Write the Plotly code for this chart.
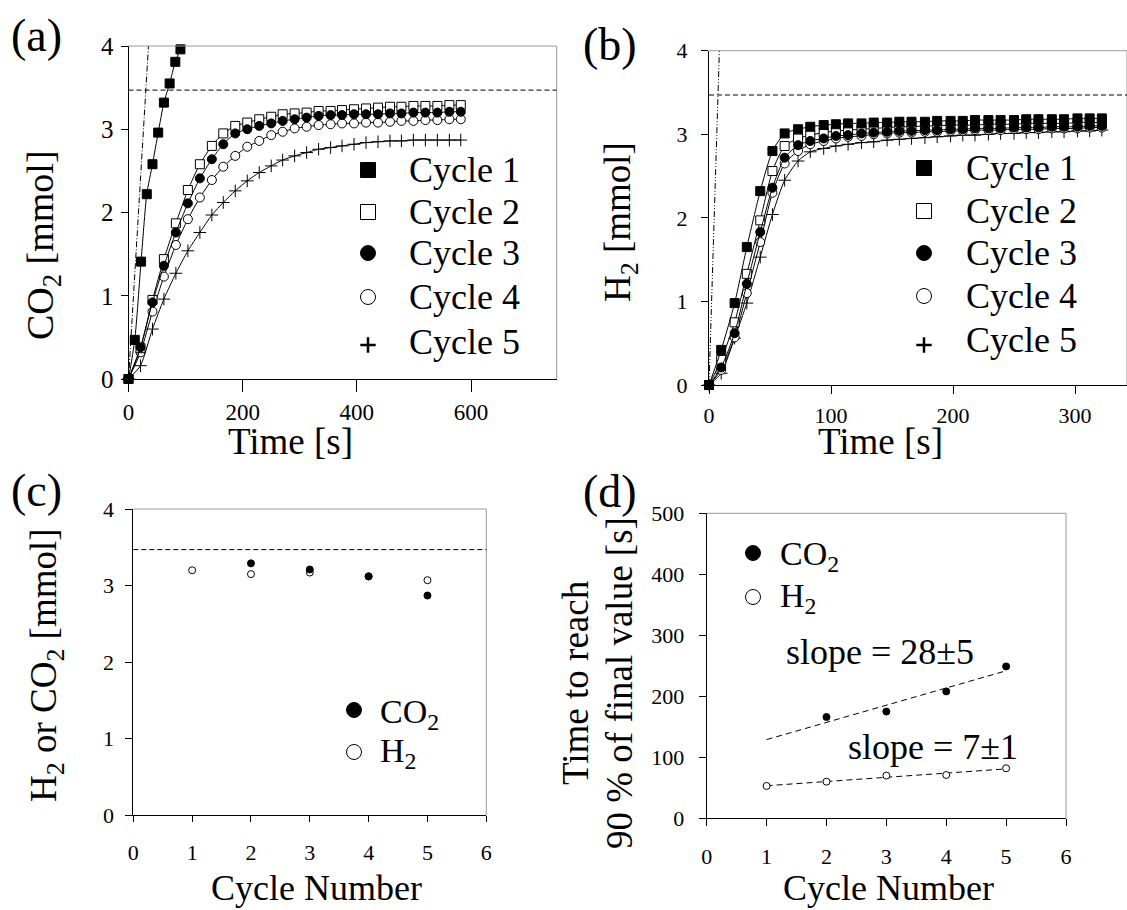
import numpy as np
import plotly.graph_objects as go

W, H = 1127, 910
FONT = "Liberation Serif"

# ---------------- data ----------------
# (a) CO2 released vs time
t_a_c1 = [0, 11, 22, 32, 42, 52, 62, 72, 82, 91]
co2_c1 = [0, 0.47, 1.41, 2.22, 2.58, 2.96, 3.32, 3.55, 3.81, 3.96]
t_a = [0, 21, 42, 62, 83, 104, 125, 146, 166, 187, 208, 229, 250, 270, 291,
       312, 333, 354, 374, 395, 416, 437, 458, 478, 499, 520, 541, 562, 582]
co2_c2 = [0, 0.37, 0.95, 1.44, 1.87, 2.27, 2.58, 2.80, 2.95, 3.04, 3.08, 3.12, 3.15, 3.18, 3.19,
          3.20, 3.22, 3.22, 3.23, 3.24, 3.25, 3.26, 3.27, 3.27, 3.28, 3.28, 3.28, 3.29, 3.29]
co2_c3 = [0, 0.38, 0.92, 1.36, 1.76, 2.11, 2.41, 2.64, 2.82, 2.95, 3.00, 3.04, 3.07, 3.10, 3.12,
          3.14, 3.16, 3.17, 3.17, 3.18, 3.18, 3.18, 3.19, 3.19, 3.20, 3.20, 3.20, 3.21, 3.21]
co2_c4 = [0, 0.32, 0.81, 1.23, 1.61, 1.92, 2.18, 2.39, 2.55, 2.68, 2.79, 2.86, 2.93, 2.97, 3.01,
          3.03, 3.05, 3.06, 3.07, 3.07, 3.08, 3.08, 3.09, 3.10, 3.10, 3.11, 3.11, 3.12, 3.12]
co2_c5 = [0, 0.16, 0.60, 0.96, 1.27, 1.54, 1.76, 1.97, 2.12, 2.26, 2.38, 2.48, 2.56, 2.63, 2.68,
          2.72, 2.76, 2.78, 2.80, 2.82, 2.84, 2.85, 2.86, 2.86, 2.87, 2.87, 2.87, 2.87, 2.87]
ideal_a_t = [0, 35]
ideal_a_v = [0, 4]

# (b) H2 released vs time
t_b = [0, 10, 21, 31, 42, 52, 62, 73, 83, 94, 104, 114, 125, 135, 146, 156,
       166, 177, 187, 198, 208, 218, 229, 239, 250, 260, 270, 281, 291, 302, 312, 322]
h2_c1 = [0, 0.42, 0.98, 1.65, 2.32, 2.80, 3.01, 3.06, 3.09, 3.11, 3.12, 3.13, 3.13, 3.14, 3.14, 3.15,
         3.15, 3.15, 3.16, 3.16, 3.16, 3.17, 3.17, 3.17, 3.17, 3.18, 3.18, 3.18, 3.18, 3.19, 3.19, 3.19]
h2_c2 = [0, 0.30, 0.75, 1.33, 1.97, 2.56, 2.86, 2.95, 2.99, 3.02, 3.04, 3.05, 3.06, 3.07, 3.08, 3.09,
         3.09, 3.10, 3.10, 3.11, 3.11, 3.11, 3.12, 3.12, 3.12, 3.13, 3.13, 3.13, 3.13, 3.14, 3.14, 3.14]
h2_c3 = [0, 0.21, 0.62, 1.21, 1.83, 2.36, 2.72, 2.87, 2.92, 2.95, 2.98, 2.99, 3.01, 3.02, 3.03, 3.04,
         3.04, 3.05, 3.05, 3.06, 3.06, 3.07, 3.07, 3.07, 3.08, 3.08, 3.08, 3.09, 3.09, 3.09, 3.10, 3.10]
h2_c4 = [0, 0.18, 0.57, 1.10, 1.71, 2.30, 2.65, 2.80, 2.88, 2.92, 2.95, 2.97, 2.98, 3.00, 3.01, 3.02,
         3.02, 3.03, 3.03, 3.04, 3.04, 3.05, 3.05, 3.05, 3.06, 3.06, 3.06, 3.07, 3.07, 3.07, 3.08, 3.08]
h2_c5 = [0, 0.14, 0.56, 0.98, 1.53, 2.04, 2.45, 2.68, 2.79, 2.83, 2.86, 2.88, 2.90, 2.91, 2.93, 2.94,
         2.95, 2.96, 2.97, 2.98, 2.99, 2.99, 3.00, 3.01, 3.01, 3.02, 3.02, 3.03, 3.03, 3.04, 3.04, 3.05]
ideal_b_t = [0, 8.5]
ideal_b_v = [0, 4]

theoretical = 3.47  # dashed reference level [mmol]

# (c) final amounts per cycle
cyc_co2 = [2, 3, 4, 5]
final_co2 = [3.29, 3.21, 3.12, 2.87]
cyc_h2 = [1, 2, 3, 4, 5]
final_h2 = [3.20, 3.15, 3.17, 3.12, 3.07]

# (d) time to reach 90 % of final value
t90_co2 = [166, 175, 208, 249]
t90_h2 = [53, 60, 70, 71, 82]

cycle_names = ["Cycle 1", "Cycle 2", "Cycle 3", "Cycle 4", "Cycle 5"]

# ---------------- layout geometry (pixels) ----------------
BOX = {
    "a": dict(l=128.5, r=556.7, t=46, b=379, xr=[0, 750], yr=[0, 4]),
    "b": dict(l=709, r=1127, t=50.7, b=385, xr=[0, 342.6], yr=[0, 4]),
    "c": dict(l=133.3, r=486.3, t=509, b=815.3, xr=[0, 6], yr=[0, 4]),
    "d": dict(l=706.7, r=1066, t=513.3, b=818.3, xr=[0, 6], yr=[0, 500]),
}

def px(x):
    return x / W

def py(y):
    return 1 - y / H

def to_data(panel, xp, yp):
    bx = BOX[panel]
    xd = bx["xr"][0] + (xp - bx["l"]) / (bx["r"] - bx["l"]) * (bx["xr"][1] - bx["xr"][0])
    yd = bx["yr"][0] + (bx["b"] - yp) / (bx["b"] - bx["t"]) * (bx["yr"][1] - bx["yr"][0])
    return xd, yd

BLACK = "black"
sym_specs = [
    dict(symbol="square", color=BLACK, line=dict(color=BLACK, width=1)),
    dict(symbol="square", color="white", line=dict(color=BLACK, width=1)),
    dict(symbol="circle", color=BLACK, line=dict(color=BLACK, width=1)),
    dict(symbol="circle", color="white", line=dict(color=BLACK, width=1)),
    dict(symbol="cross-thin", color=BLACK, line=dict(color=BLACK, width=1)),
]

fig = go.Figure()

def series(x, y, spec, size, xa, ya):
    fig.add_trace(go.Scatter(
        x=x, y=y, mode="lines+markers", xaxis=xa, yaxis=ya,
        line=dict(color=BLACK, width=1, shape="spline", smoothing=0.6),
        marker=dict(size=size, **spec), cliponaxis=False, showlegend=False))

# (a)
fig.add_trace(go.Scatter(x=ideal_a_t, y=ideal_a_v, mode="lines", xaxis="x", yaxis="y",
                         line=dict(color=BLACK, width=1, dash="6px,2px,1px,2px"), showlegend=False))
a_sets = [(t_a_c1, co2_c1), (t_a, co2_c2), (t_a, co2_c3), (t_a, co2_c4), (t_a, co2_c5)]
for i in [4, 3, 1, 2, 0]:
    series(a_sets[i][0], a_sets[i][1], sym_specs[i], 9, "x", "y")

# (b)
fig.add_trace(go.Scatter(x=ideal_b_t, y=ideal_b_v, mode="lines", xaxis="x2", yaxis="y2",
                         line=dict(color=BLACK, width=1, dash="6px,2px,1px,2px,1px,2px"), showlegend=False))
b_sets = [h2_c1, h2_c2, h2_c3, h2_c4, h2_c5]
for i in [4, 3, 1, 2, 0]:
    series(t_b, b_sets[i], sym_specs[i], 9, "x2", "y2")

# (c)
fig.add_trace(go.Scatter(x=cyc_h2, y=final_h2, mode="markers", xaxis="x3", yaxis="y3",
                         marker=dict(size=7, symbol="circle", color="white", line=dict(color=BLACK, width=1)),
                         cliponaxis=False, showlegend=False))
fig.add_trace(go.Scatter(x=cyc_co2, y=final_co2, mode="markers", xaxis="x3", yaxis="y3",
                         marker=dict(size=7, symbol="circle", color=BLACK, line=dict(color=BLACK, width=1)),
                         cliponaxis=False, showlegend=False))

# (d) with linear fits
for cx, cy in [(cyc_co2, t90_co2), (cyc_h2, t90_h2)]:
    k, b0 = np.polyfit(cx, cy, 1)
    fx = np.array([1, 5])
    fig.add_trace(go.Scatter(x=fx, y=k * fx + b0, mode="lines", xaxis="x4", yaxis="y4",
                             line=dict(color=BLACK, width=1, dash="6px,4px"), showlegend=False))
fig.add_trace(go.Scatter(x=cyc_co2, y=t90_co2, mode="markers", xaxis="x4", yaxis="y4",
                         marker=dict(size=7, symbol="circle", color=BLACK, line=dict(color=BLACK, width=1)),
                         cliponaxis=False, showlegend=False))
fig.add_trace(go.Scatter(x=cyc_h2, y=t90_h2, mode="markers", xaxis="x4", yaxis="y4",
                         marker=dict(size=7, symbol="circle", color="white", line=dict(color=BLACK, width=1)),
                         cliponaxis=False, showlegend=False))

# ---------------- legend keys (placed in each panel) ----------------
leg_a_x, leg_a_y = 368, [170, 212, 253, 297, 345]
leg_b_x, leg_b_y = 924, [168, 211, 253, 296, 345]
key_specs = [dict(s) for s in sym_specs]
key_specs[4] = dict(symbol="cross-thin", color=BLACK, line=dict(color=BLACK, width=2.5))
for panel, xa, ya, kx, kys in [("a", "x", "y", leg_a_x, leg_a_y), ("b", "x2", "y2", leg_b_x, leg_b_y)]:
    for i in range(5):
        xd, yd = to_data(panel, kx, kys[i])
        fig.add_trace(go.Scatter(x=[xd], y=[yd], mode="markers", xaxis=xa, yaxis=ya,
                                 marker=dict(size=15 if i < 4 else 11, **key_specs[i]),
                                 cliponaxis=False, showlegend=False, hoverinfo="skip"))
for panel, xa, ya, kx, kys in [("c", "x3", "y3", 354, [710, 752]), ("d", "x4", "y4", 753, [553, 597])]:
    for j, spec in enumerate([sym_specs[2], sym_specs[3]]):
        xd, yd = to_data(panel, kx, kys[j])
        fig.add_trace(go.Scatter(x=[xd], y=[yd], mode="markers", xaxis=xa, yaxis=ya,
                                 marker=dict(size=15, **spec), cliponaxis=False,
                                 showlegend=False, hoverinfo="skip"))

# ---------------- axes ----------------
def xax(panel, tickvals, ticklen, size, standoff, anchor):
    bx = BOX[panel]
    return dict(domain=[px(bx["l"]), min(1.0, px(bx["r"]))], range=bx["xr"], tickvals=tickvals,
                ticktext=[str(v) for v in tickvals],
                ticks="outside", ticklen=ticklen, tickcolor=BLACK, showline=True, linecolor=BLACK,
                linewidth=1, showgrid=False, zeroline=False, anchor=anchor,
                tickfont=dict(family=FONT, size=size, color=BLACK), ticklabelstandoff=standoff)

def yax(panel, tickvals, size, standoff, anchor):
    bx = BOX[panel]
    return dict(domain=[py(bx["b"]), py(bx["t"])], range=bx["yr"], tickvals=tickvals,
                ticktext=[str(v) for v in tickvals],
                ticks="outside", ticklen=7, tickcolor=BLACK, showline=True, linecolor=BLACK,
                linewidth=1, showgrid=False, zeroline=False, anchor=anchor,
                tickfont=dict(family=FONT, size=size, color=BLACK), ticklabelstandoff=standoff)

fig.update_layout(
    xaxis=xax("a", [0, 200, 400, 600], 12, 23, 0, "y"),
    yaxis=yax("a", [0, 1, 2, 3, 4], 25, 2, "x"),
    xaxis2=xax("b", [0, 100, 200, 300], 8, 22, 3, "y2"),
    yaxis2=yax("b", [0, 1, 2, 3, 4], 22, 9, "x2"),
    xaxis3=xax("c", [0, 1, 2, 3, 4, 5, 6], 6, 22, 11, "y3"),
    yaxis3=yax("c", [0, 1, 2, 3, 4], 22, 7, "x3"),
    xaxis4=xax("d", [0, 1, 2, 3, 4, 5, 6], 7, 22, 11, "y4"),
    yaxis4=yax("d", [0, 100, 200, 300, 400, 500], 22, 10, "x4"),
)

# frames (light gray top/right) and dashed reference levels
shapes = []
for xa, ya in [("x", "y"), ("x2", "y2"), ("x3", "y3"), ("x4", "y4")]:
    shapes.append(dict(type="line", xref=f"{xa} domain", yref=f"{ya} domain", x0=0, x1=1, y0=1, y1=1,
                       line=dict(color="#9a9a9a", width=1)))
    shapes.append(dict(type="line", xref=f"{xa} domain", yref=f"{ya} domain", x0=1, x1=1, y0=0, y1=1,
                       line=dict(color="#9a9a9a", width=1)))
for xa, ya in [("x", "y"), ("x2", "y2"), ("x3", "y3")]:
    shapes.append(dict(type="line", xref=f"{xa} domain", yref=ya, x0=0, x1=1, y0=theoretical, y1=theoretical,
                       line=dict(color=BLACK, width=1, dash="5px,3px")))
fig.update_layout(shapes=shapes)

# ---------------- text ----------------
ann = []

def text(x, y, s, size, xanchor="center", angle=0):
    ann.append(dict(x=px(x), y=py(y), xref="paper", yref="paper", text=s, showarrow=False,
                    xanchor=xanchor, yanchor="middle", textangle=angle,
                    font=dict(family=FONT, size=size, color=BLACK)))

# panel labels
text(36, 36, "(a)", 46)
text(610, 44, "(b)", 46)
text(36, 490, "(c)", 46)
text(610, 492, "(d)", 46)

# axis titles
text(290, 441, "Time [s]", 37)
text(880, 441, "Time [s]", 37)
text(316, 888, "Cycle Number", 36)
text(888, 888, "Cycle Number", 36)
text(43, 245, "CO<sub>2</sub> [mmol]", 38, angle=-90)
text(620, 222, "H<sub>2</sub> [mmol]", 37, angle=-90)
text(46, 665, "H<sub>2</sub> or CO<sub>2</sub> [mmol]", 37, angle=-90)
text(575, 683, "Time to reach", 37, angle=-90)
text(619, 683, "90 % of final value [s]", 37, angle=-90)

# legends
for i in range(5):
    text(407, leg_a_y[i] - (3 if i == 4 else 0), cycle_names[i], 36, xanchor="left")
    text(964, leg_b_y[i] - (5 if i == 4 else 0), cycle_names[i], 36, xanchor="left")
text(378, 714, "CO<sub>2</sub>", 34, xanchor="left")
text(378, 753, "H<sub>2</sub>", 34, xanchor="left")
text(778, 556, "CO<sub>2</sub>", 34, xanchor="left")
text(778, 598, "H<sub>2</sub>", 34, xanchor="left")

# slope labels
text(880, 652, "slope = 28±5", 36)
text(933, 747, "slope = 7±1", 36)

fig.update_layout(
    annotations=ann,
    width=W, height=H, autosize=False,
    margin=dict(l=0, r=0, t=0, b=0, autoexpand=False),
    paper_bgcolor="white", plot_bgcolor="white",
    showlegend=False,
    font=dict(family=FONT, size=22, color=BLACK),
)

fig.write_html("out.html")
